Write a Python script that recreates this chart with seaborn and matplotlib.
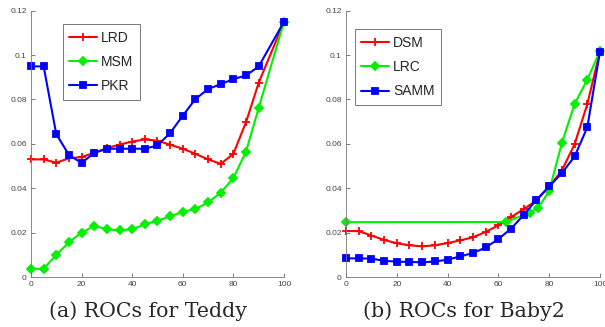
import numpy as np
import pandas as pd
import matplotlib
matplotlib.use("Agg")
import matplotlib.pyplot as plt
import seaborn as sns

# dados
x_teddy = [0, 5, 10, 15, 20, 25, 30, 35, 40, 45, 50, 55, 60, 65, 70, 75, 80, 85, 90, 100]
lrd = [0.053, 0.053, 0.0515, 0.0535, 0.054, 0.056, 0.058, 0.0597, 0.061, 0.062,
       0.0614, 0.0596, 0.0578, 0.0555, 0.053, 0.051, 0.0555, 0.0698, 0.0875, 0.115]
msm = [0.0037, 0.0037, 0.010, 0.0156, 0.020, 0.023, 0.0216, 0.021, 0.0216, 0.0237,
       0.0254, 0.0273, 0.0294, 0.0306, 0.0336, 0.038, 0.0446, 0.0565, 0.0762, 0.115]
pkr = [0.0949, 0.0949, 0.0644, 0.055, 0.0514, 0.0559, 0.0578, 0.0578, 0.0578, 0.0578,
       0.0593, 0.0649, 0.0727, 0.0802, 0.0847, 0.0869, 0.0892, 0.0908, 0.0949, 0.115]

x_baby = [0, 5, 10, 15, 20, 25, 30, 35, 40, 45, 50, 55, 60, 65, 70, 75, 80, 85, 90, 95, 100]
dsm = [0.0207, 0.0207, 0.0187, 0.0167, 0.0152, 0.0143, 0.0138, 0.0143, 0.0153, 0.0165,
       0.0179, 0.0203, 0.0233, 0.027, 0.0306, 0.0345, 0.0408, 0.048, 0.0598, 0.0779, 0.1016]
samm = [0.0084, 0.0084, 0.0083, 0.0073, 0.0069, 0.0068, 0.0066, 0.007, 0.0078, 0.0093,
        0.0108, 0.0133, 0.0171, 0.0218, 0.028, 0.0348, 0.0408, 0.0468, 0.0543, 0.0674, 0.1016]
x_lrc = [0, 63, 72.5, 75.7, 80, 85, 90, 95, 100]
lrc = [0.0247, 0.0248, 0.029, 0.0312, 0.0387, 0.0604, 0.0779, 0.0889, 0.1018]

yticks = [0, 0.02, 0.04, 0.06, 0.08, 0.1, 0.12]
ytick_labels = ['0', '0.02', '0.04', '0.06', '0.08', '0.1', '0.12']
xticks = [0, 20, 40, 60, 80, 100]

sns.set_style("ticks")
plt.rcParams['font.family'] = ['Liberation Sans', 'DejaVu Sans']

fig = plt.figure(figsize=(6.05, 3.27), dpi=100)
ax1 = fig.add_axes([0.0512, 0.1529, 0.4182, 0.8144])
ax2 = fig.add_axes([0.5719, 0.1529, 0.4198, 0.8144])

RED = '#ff0000'
GREEN = '#00f000'
BLUE = '#0000ff'


def serie(ax, x, y, nome, cor, marcador, tam):
    sns.lineplot(x=x, y=y, ax=ax, color=cor, marker=marcador, markersize=tam,
                 markerfacecolor=cor, markeredgecolor=cor, markeredgewidth=1.3,
                 linewidth=1.5, label=nome, clip_on=False)


serie(ax1, x_teddy, lrd, 'LRD', RED, '+', 6)
serie(ax1, x_teddy, msm, 'MSM', GREEN, 'D', 4.5)
serie(ax1, x_teddy, pkr, 'PKR', BLUE, 's', 5)

serie(ax2, x_baby, dsm, 'DSM', RED, '+', 6)
serie(ax2, x_lrc, lrc, 'LRC', GREEN, 'D', 4.5)
serie(ax2, x_baby, samm, 'SAMM', BLUE, 's', 5)

for ax, anchor in [(ax1, (0.126, 0.949)), (ax2, (0.035, 0.93))]:
    ax.set_xlim(0, 100)
    ax.set_ylim(0, 0.12)
    ax.set_xticks(xticks)
    ax.set_yticks(yticks)
    ax.set_yticklabels(ytick_labels)
    ax.set_xlabel('')
    ax.set_ylabel('')
    ax.tick_params(direction='in', length=3, width=0.6, labelsize=6,
                   colors='#666666', labelcolor='#444444', pad=3)
    for s in ['top', 'right']:
        ax.spines[s].set_visible(False)
    for s in ['left', 'bottom']:
        ax.spines[s].set_color('#777777')
        ax.spines[s].set_linewidth(0.6)
    leg = ax.legend(loc='upper left', bbox_to_anchor=anchor, borderaxespad=0,
                    fontsize=10, frameon=True, fancybox=False, handlelength=2.0,
                    handletextpad=0.3, labelspacing=0.75, borderpad=0.45)
    leg.get_frame().set_edgecolor('#555555')
    leg.get_frame().set_linewidth(0.7)

fig.text(0.245, 0.031, '(a) ROCs for Teddy', ha='center', va='baseline',
         fontsize=14.8, family=['DejaVu Serif'])
fig.text(0.767, 0.031, '(b) ROCs for Baby2', ha='center', va='baseline',
         fontsize=14.8, family=['DejaVu Serif'])

fig.savefig('out.png', dpi=100)
